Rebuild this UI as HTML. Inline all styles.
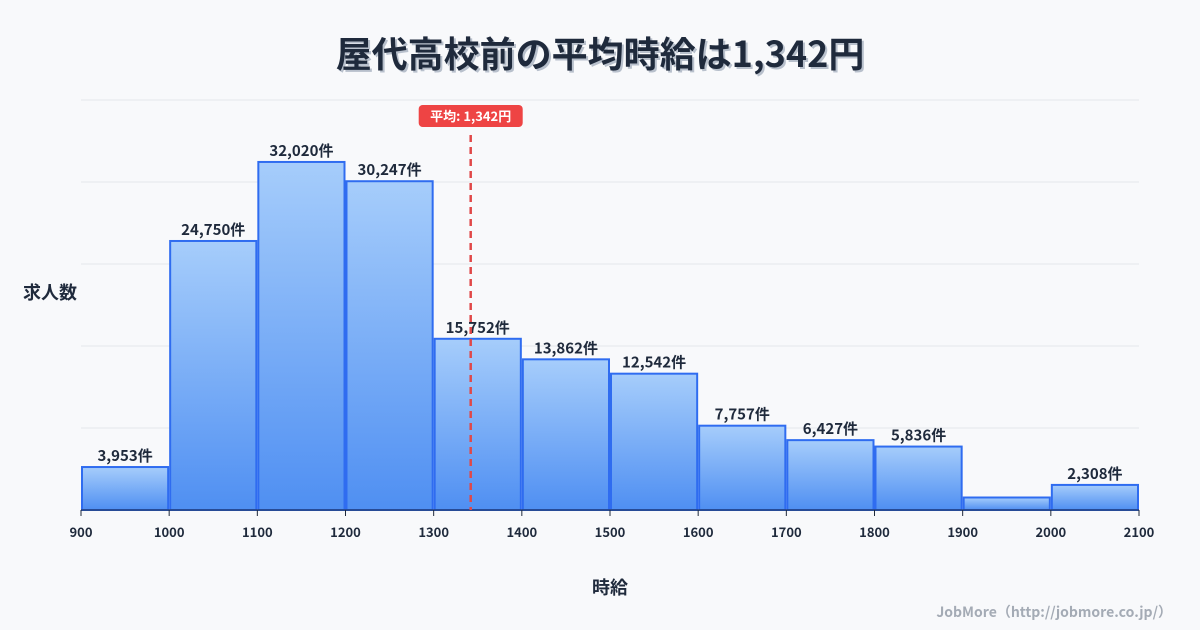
<!DOCTYPE html>
<html><head><meta charset="utf-8"><style>
body{margin:0;background:#f8f9fb;font-family:"Liberation Sans","Noto Sans CJK JP",sans-serif;}
svg{display:block}
</style></head><body>
<svg id="c" width="1200" height="630">
<defs><linearGradient id="g" x1="0" y1="0" x2="0" y2="1"><stop offset="0" stop-color="#a6cdfb"/><stop offset="1" stop-color="#4f8ff2"/></linearGradient></defs>
<text x="602" y="69" text-anchor="middle" font-size="36" font-weight="bold" fill="#b8c0cc" font-family="Noto Sans CJK JP,sans-serif">屋代高校前の平均時給は1,342円</text>
<text x="600" y="67" text-anchor="middle" font-size="36" font-weight="bold" fill="#1f2a3c" font-family="Noto Sans CJK JP,sans-serif">屋代高校前の平均時給は1,342円</text>
<g id="grid"></g><g id="bars"></g><g id="axis"></g>
<text x="50" y="299" text-anchor="middle" font-size="18" font-weight="bold" fill="#1f2a3c" font-family="Noto Sans CJK JP,sans-serif">求人数</text>
<text x="610" y="594" text-anchor="middle" font-size="18" font-weight="bold" fill="#1f2a3c" font-family="Noto Sans CJK JP,sans-serif">時給</text>
<text x="1172" y="617" text-anchor="end" font-size="14" font-weight="bold" fill="#a4abb5" font-family="Noto Sans CJK JP,sans-serif">JobMore（http://jobmore.co.jp/）</text>
</svg>
<script>
const binStarts=[900,1000,1100,1200,1300,1400,1500,1600,1700,1800,1900,2000];
const counts=[3953,24750,32020,30247,15752,13862,12542,7757,6427,5836,1150,2308];
const showLabel=[true,true,true,true,true,true,true,true,true,true,false,true];
const xTicks=[900,1000,1100,1200,1300,1400,1500,1600,1700,1800,1900,2000,2100];
const meanValue=1342;
const yMax=37720;
const NS="http://www.w3.org/2000/svg";
const X0=81,X1=1139,Y0=510,Y1=100;
const x=v=>X0+(v-900)/1200*(X1-X0);
const y=v=>Y0-v/yMax*(Y0-Y1);
function mk(t,a,p){const e=document.createElementNS(NS,t);for(const k in a)e.setAttribute(k,a[k]);p.appendChild(e);return e;}
const grid=document.getElementById('grid'),bars=document.getElementById('bars'),axis=document.getElementById('axis');
for(let i=0;i<=5;i++){const yy=Y1+i*(Y0-Y1)/5;const l=mk('line',{x1:X0,x2:X1,y1:yy,y2:yy,stroke:'#e3e6eb','stroke-width':1},grid);

}
const F='Noto Sans CJK JP,sans-serif';
binStarts.forEach((b,i)=>{
const xa=x(b)+1,xb=x(b+100)-1,yt=y(counts[i]);
const r=mk('rect',{x:xa,y:yt,width:xb-xa,height:Y0-yt,fill:'url(#g)',stroke:'#2f6cf0','stroke-width':2},bars);


if(showLabel[i]){const t=mk('text',{x:(xa+xb)/2,y:yt-6,'text-anchor':'middle','font-size':15,'font-weight':'bold',fill:'#1f2a3c','font-family':F},bars);
t.textContent=counts[i].toLocaleString('en-US')+'件';

}
});
mk('line',{x1:X0,x2:X1,y1:Y0,y2:Y0,stroke:'#1f2a3c','stroke-width':1},axis);
xTicks.forEach(v=>{mk('line',{x1:x(v),x2:x(v),y1:Y0,y2:Y0+6,stroke:'#1f2a3c'},axis);
const t=mk('text',{x:x(v),y:537,'text-anchor':'middle','font-size':13,'font-weight':'bold',fill:'#1f2a3c','font-family':F},axis);
t.textContent=v;

});
const mx=x(meanValue);
const ml=mk('line',{x1:mx,x2:mx,y1:135,y2:Y0,stroke:'#e04848','stroke-width':2.5,'stroke-dasharray':'7,5'},axis);


const bg=mk('rect',{x:mx-52,y:105,width:104,height:22,rx:4,fill:'#ee4444'},axis);


const mt=mk('text',{x:mx,y:121,'text-anchor':'middle','font-size':13,'font-weight':'bold',fill:'#fff','font-family':F},axis);
mt.textContent='平均: '+meanValue.toLocaleString('en-US')+'円';


</script>
</body></html>
